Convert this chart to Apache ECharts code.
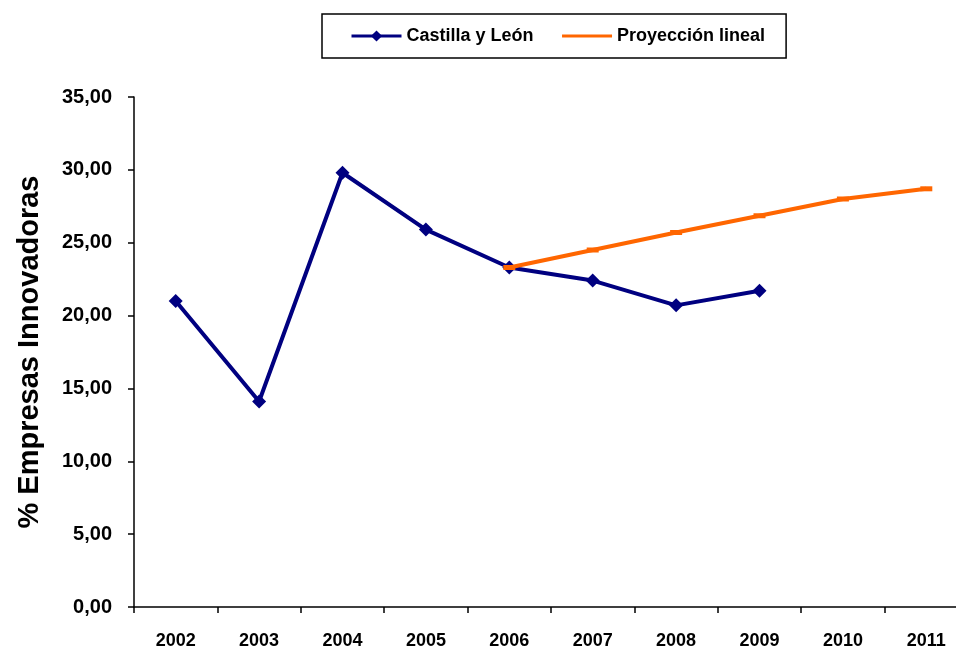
<!DOCTYPE html>
<html>
<head>
<meta charset="utf-8">
<script src="https://cdn.jsdelivr.net/npm/echarts@6/dist/echarts.min.js"></script>
<style>
  html, body { margin: 0; padding: 0; background: #fff; }
  #chart { width: 956px; height: 648px; }
</style>
</head>
<body>
<div id="chart"></div>
<script>
// años del eje X
const years = ['2002', '2003', '2004', '2005', '2006', '2007', '2008', '2009', '2010', '2011']
// % empresas innovadoras en Castilla y León
const castillaLeon = [21.0, 14.1, 29.8, 25.9, 23.3, 22.4, 20.7, 21.7, null, null]
// proyección lineal desde 2006
const proyeccion = [null, null, null, null, 23.3, 24.5, 25.7, 26.85, 28.0, 28.7]

const chart = echarts.init(document.getElementById('chart'))
const font = 'Liberation Sans, Arial, sans-serif'

const option = {
  animation: false,
  backgroundColor: '#fff',
  textStyle: { fontFamily: font },
  legend: {
    left: 322,
    top: 14,
    itemGap: 27,
    itemWidth: 50,
    itemHeight: 14,
    padding: [13, 21, 13, 28],
    borderColor: '#000',
    borderWidth: 1.5,
    lineStyle: { width: 3 },
    textStyle: { fontSize: 18, fontWeight: 'bold', color: '#000', fontFamily: font },
    data: [
      { name: 'Castilla y León' },
      { name: 'Proyección lineal', itemStyle: { opacity: 0 } }
    ]
  },
  grid: {
    left: 134,
    width: 834, // el eje sigue más allá del borde derecho, como en el original
    top: 97,
    bottom: 41,
    outerBoundsMode: 'none',
    containLabel: false
  },
  xAxis: {
    type: 'category',
    data: years,
    boundaryGap: true,
    axisLine: { lineStyle: { color: '#000', width: 1.5 } },
    axisTick: { show: true, length: 6, inside: false, lineStyle: { color: '#000', width: 1.5 } },
    axisLabel: { color: '#000', fontSize: 18, fontWeight: 'bold', margin: 25, fontFamily: font }
  },
  yAxis: {
    type: 'value',
    min: 0,
    max: 35,
    interval: 5,
    name: '% Empresas Innovadoras',
    nameLocation: 'middle',
    nameRotate: 90,
    nameGap: 90,
    nameTextStyle: { fontSize: 29, fontWeight: 'bold', color: '#000', fontFamily: font },
    axisLine: { show: true, lineStyle: { color: '#000', width: 1.5 } },
    axisTick: { show: true, length: 6, lineStyle: { color: '#000', width: 1.5 } },
    splitLine: { show: false },
    axisLabel: {
      color: '#000',
      fontSize: 20,
      fontWeight: 'bold',
      margin: 22,
      fontFamily: font,
      formatter: v => v.toFixed(2).replace('.', ',')
    }
  },
  series: [
    {
      name: 'Castilla y León',
      type: 'line',
      data: castillaLeon,
      color: '#000080',
      symbol: 'diamond',
      symbolSize: 14,
      lineStyle: { width: 4, color: '#000080' },
      itemStyle: { color: '#000080' },
      z: 2
    },
    {
      name: 'Proyección lineal',
      type: 'line',
      data: proyeccion,
      color: '#FF6600',
      symbol: 'rect',
      symbolSize: [12, 5],
      lineStyle: { width: 4, color: '#FF6600' },
      itemStyle: { color: '#FF6600' },
      z: 3
    }
  ]
}

chart.setOption(option)
</script>
</body>
</html>
